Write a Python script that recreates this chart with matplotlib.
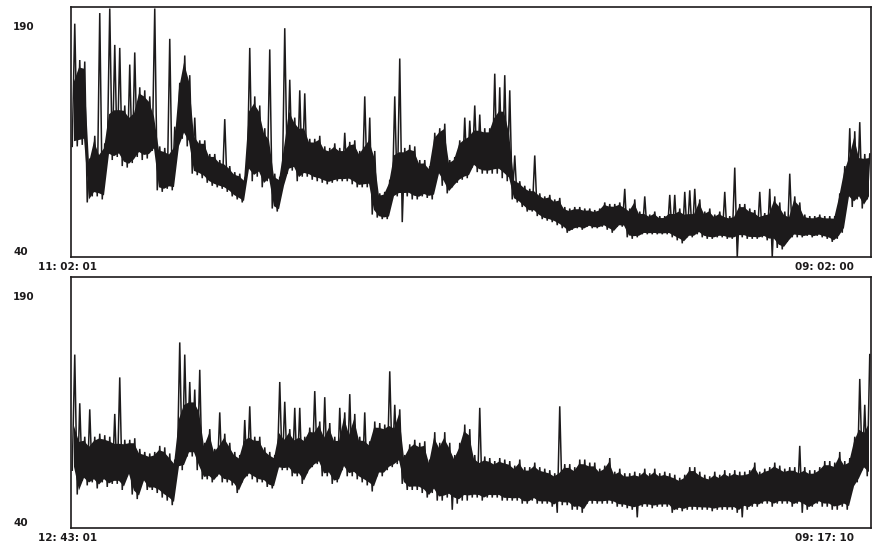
import numpy as np
import matplotlib
matplotlib.use("Agg")
import matplotlib.pyplot as plt

# === dense trace band, one low/high pair per ~8 min bin (bpm) ===
p1_lo = [113, 113, 114, 76, 80, 80, 78, 106, 104, 106,
         100, 99, 102, 106, 104, 105, 110, 84, 83, 85,
         84, 110, 118, 113, 95, 94, 92, 89, 87, 86,
         85, 83, 80, 78, 76, 95, 90, 93, 86, 90,
         72, 70, 85, 95, 97, 90, 93, 93, 91, 90,
         89, 88, 89, 90, 90, 90, 88, 86, 86, 86,
         68, 66, 65, 65, 78, 80, 80, 80, 78, 78,
         80, 79, 78, 93, 87, 82, 86, 89, 91, 92,
         99, 96, 95, 95, 95, 95, 92, 90, 78, 76,
         73, 70, 70, 67, 65, 64, 63, 61, 59, 56,
         58, 59, 58, 60, 59, 59, 60, 58, 56, 60,
         60, 53, 52, 53, 55, 55, 55, 55, 55, 55,
         53, 51, 49, 53, 53, 55, 53, 52, 52, 53,
         53, 52, 52, 53, 53, 52, 52, 52, 53, 51,
         50, 46, 45, 50, 53, 53, 53, 54, 53, 54,
         53, 52, 50, 52, 56, 78, 73, 78, 72, 78]
p1_hi = [160, 170, 169, 105, 120, 110, 115, 137, 140, 140,
         140, 135, 138, 152, 150, 146, 135, 113, 112, 110,
         115, 155, 173, 160, 122, 117, 117, 108, 108, 104,
         103, 100, 96, 95, 92, 140, 146, 140, 125, 120,
         95, 93, 115, 140, 132, 128, 128, 118, 118, 120,
         113, 112, 115, 112, 112, 116, 117, 110, 115, 120,
         110, 82, 83, 91, 110, 112, 112, 114, 113, 104,
         104, 100, 122, 125, 128, 104, 106, 117, 120, 122,
         126, 126, 125, 125, 135, 140, 140, 125, 92, 90,
         87, 85, 85, 82, 80, 81, 78, 79, 73, 72,
         73, 73, 72, 72, 71, 72, 76, 75, 75, 76,
         74, 72, 78, 70, 70, 68, 70, 67, 67, 70,
         70, 72, 70, 70, 70, 78, 70, 72, 68, 70,
         68, 67, 68, 75, 75, 72, 71, 68, 69, 70,
         80, 76, 70, 68, 80, 76, 68, 67, 67, 68,
         67, 67, 67, 82, 100, 108, 123, 108, 108, 108]
# isolated spikes above / below the band (bin index, bpm)
p1_spike_bin = [0, 5, 7, 8, 9, 11, 12, 16, 19, 20, 24, 30, 35, 39, 42, 43,
                45, 46, 54, 58, 59, 64, 65, 78, 79, 80, 81, 84, 85, 86, 87,
                88, 92, 110, 114, 119, 120, 122, 123, 124, 130, 132, 137,
                139, 143, 155, 157]
p1_spike_top = [194, 201, 204, 180, 178, 167, 175, 204, 184, 126, 132, 131,
                178, 177, 191, 157, 150, 148, 122, 146, 132, 146, 171, 132,
                130, 140, 134, 161, 152, 160, 150, 107, 107, 85, 80, 81, 81,
                83, 84, 85, 83, 99, 83, 85, 95, 125, 129]
p1_dip_bin = [66, 133, 140]
p1_dip_low = [63, 40, 40]

p2_lo = [78, 62, 71, 68, 70, 66, 70, 67, 69, 69,
         65, 74, 62, 59, 70, 65, 65, 63, 60, 58,
         55, 78, 78, 87, 87, 78, 72, 72, 70, 74,
         70, 70, 68, 63, 70, 74, 72, 70, 70, 67,
         66, 78, 78, 78, 74, 74, 69, 76, 80, 82,
         74, 74, 69, 70, 78, 74, 74, 72, 70, 68,
         64, 74, 74, 78, 80, 82, 69, 65, 65, 65,
         63, 60, 63, 58, 58, 60, 58, 56, 58, 58,
         60, 60, 58, 60, 60, 60, 58, 58, 58, 58,
         56, 56, 58, 56, 56, 56, 54, 56, 55, 55,
         52, 52, 50, 56, 56, 56, 56, 56, 56, 54,
         54, 53, 52, 53, 54, 54, 53, 54, 54, 54,
         50, 52, 51, 52, 52, 52, 52, 52, 51, 52,
         52, 52, 52, 50, 53, 52, 54, 54, 56, 56,
         54, 56, 56, 56, 54, 56, 54, 52, 54, 56,
         54, 54, 52, 52, 54, 52, 65, 70, 78, 74]
p2_hi = [110, 100, 100, 96, 100, 102, 101, 100, 98, 98,
         98, 98, 99, 92, 90, 89, 90, 94, 93, 89,
         85, 115, 125, 126, 126, 120, 96, 105, 92, 96,
         102, 96, 90, 88, 100, 102, 100, 100, 93, 90,
         88, 105, 100, 105, 100, 102, 100, 106, 105, 110,
         102, 109, 100, 100, 116, 104, 115, 100, 100, 97,
         110, 109, 108, 110, 108, 118, 88, 95, 98, 96,
         97, 85, 103, 96, 103, 96, 88, 96, 108, 105,
         88, 85, 87, 86, 84, 86, 85, 84, 81, 85,
         80, 80, 83, 80, 79, 78, 76, 78, 82, 82,
         80, 85, 85, 83, 83, 79, 81, 86, 77, 79,
         76, 76, 77, 76, 79, 76, 79, 76, 77, 76,
         75, 73, 75, 80, 80, 77, 75, 74, 77, 75,
         78, 76, 78, 77, 77, 78, 83, 77, 79, 80,
         83, 81, 79, 80, 80, 78, 80, 78, 78, 80,
         84, 84, 83, 90, 84, 86, 100, 108, 105, 112]
p2_spike_bin = [0, 1, 3, 8, 9, 21, 22, 23, 24, 25, 29, 34, 35, 41, 42, 44,
                45, 48, 50, 53, 55, 58, 63, 64, 81, 97, 145, 157, 158, 159]
p2_spike_top = [154, 122, 118, 115, 139, 162, 154, 136, 131, 144, 116, 111,
                120, 136, 123, 119, 119, 130, 126, 119, 128, 116, 143, 121,
                119, 120, 94, 138, 121, 154]
p2_dip_bin = [76, 97, 113, 134, 146]
p2_dip_low = [52, 50, 47, 47, 50]

y_top_label = "190"
y_bottom_label = "40"
start_times = ["11: 02: 01", "12: 43: 01"]
end_times = ["09: 02: 00", "09: 17: 10"]

W, H = 874, 549
fig = plt.figure(figsize=(W / 100, H / 100), dpi=100)
ink = "#1c1a1b"

# panel boxes in pixels: (left, top, right, bottom)
boxes = [(71, 7, 871, 257), (71, 277, 871, 528)]
series = [
    (p1_lo, p1_hi, p1_spike_bin, p1_spike_top, p1_dip_bin, p1_dip_low),
    (p2_lo, p2_hi, p2_spike_bin, p2_spike_top, p2_dip_bin, p2_dip_low),
]

for k, ((l, t, r, b), (lo, hi, sb, st, db, dl)) in enumerate(zip(boxes, series)):
    ax = fig.add_axes([l / W, 1 - b / H, (r - l) / W, (b - t) / H])
    lo = np.asarray(lo, float)
    hi = np.asarray(hi, float)
    n = len(lo)
    idx = np.arange(n)

    # solid body of the band, slightly inset so the sweep shows at the edges
    h = hi - lo
    ax.fill_between(idx + 0.5, lo + 0.08 * h, hi - 0.08 * h,
                    color=ink, linewidth=0)

    # sweep lo -> hi in each bin, with spikes/dips put in
    top = hi.copy()
    top[sb] = st
    bot = lo.copy()
    bot[db] = dl
    xs = np.column_stack([idx + 0.25, idx + 0.75]).ravel()
    ys = np.column_stack([bot, top]).ravel()
    ax.plot(xs, ys, color=ink, linewidth=1.1, solid_joinstyle="miter")

    ax.set_xlim(0, n)
    ax.set_ylim(40, 205)
    ax.set_xticks([])
    ax.set_yticks([])
    for s in ax.spines.values():
        s.set_linewidth(1.2)
        s.set_color(ink)

    fkw = dict(fontsize=7.5, fontweight="bold", color=ink)
    fig.text(13 / W, 1 - (t + 20) / H, y_top_label, ha="left", va="center", **fkw)
    fig.text(13 / W, 1 - (b - 5) / H, y_bottom_label, ha="left", va="center", **fkw)
    fig.text(38 / W, 1 - (b + 10) / H, start_times[k], ha="left", va="center", **fkw)
    fig.text(854 / W, 1 - (b + 10) / H, end_times[k], ha="right", va="center", **fkw)

fig.savefig("out.png", dpi=100)
